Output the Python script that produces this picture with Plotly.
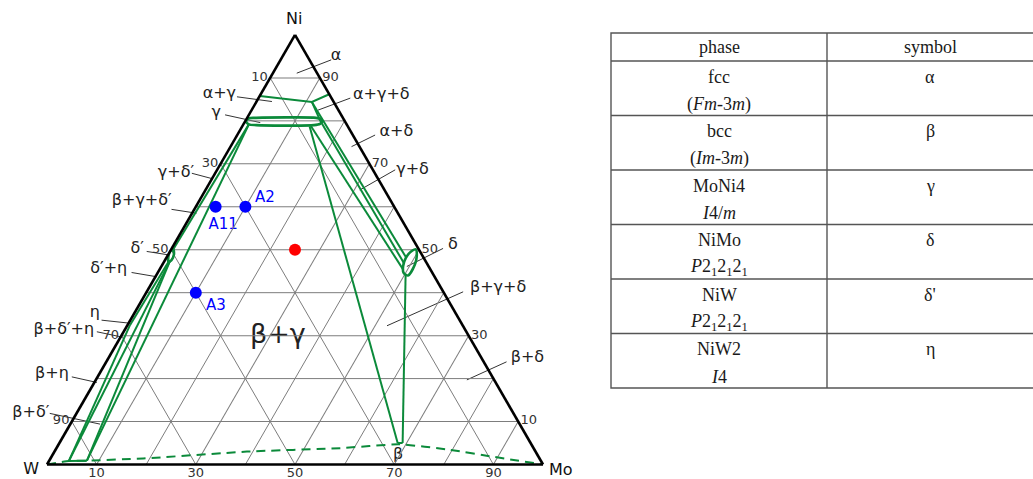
import math
import plotly.graph_objects as go

# ---------------- data (compositions in at.%: Ni, Mo; W is the balance) ----------------
MAJOR_TICKS = [10, 30, 50, 70, 90]
MINOR_GRID = [20, 40, 60, 80]
LEFT_TICKTEXT = ["90", "70", "50", "30", "10"]    # W % along W-Ni edge (a-axis ticks)
BOTTOM_TICKTEXT = ["10", "30", "50", "70", "90"]  # Mo % along W-Mo edge
RIGHT_TICKTEXT = ["90", "70", "50", "30", "10"]   # Ni % along Ni-Mo edge (c-axis ticks)

# alpha (fcc) phase boundary
ALPHA_NI = [85.8, 84.4, 86.2]
ALPHA_MO = [0.0, 11.2, 13.8]

# gamma (MoNi4) single-phase field
GAMMA_NI = [79.9, 80.6, 80.7, 80.8, 80.7, 80.4, 80.0, 79.3, 79.0, 78.9, 79.0, 79.2, 79.9]
GAMMA_MO = [0.2, 0.4, 1.8, 8.6, 13.9, 15.0, 15.5, 15.4, 14.3, 9.5, 2.7, 1.1, 0.2]

# delta (NiMo) single-phase field
DELTA_NI = [50.1, 48.5, 46.5, 44.0, 44.6, 46.2, 48.1, 49.6, 50.1]
DELTA_MO = [49.3, 50.3, 50.9, 50.8, 49.6, 48.7, 48.3, 48.6, 49.3]

# delta' (NiW) single-phase field
DELTAP_NI = [50.1, 49.0, 47.6, 47.2, 48.6, 49.7, 50.1]
DELTAP_MO = [0.4, 1.1, 1.3, 0.9, 0.2, 0.05, 0.4]

# beta (bcc) boundary (dashed)
BCC_NI = [0.0, 0.8, 0.9, 1.4, 3.0, 3.8, 4.7, 3.4, 1.8, 0.0]
BCC_MO = [0.0, 4.0, 7.6, 18.7, 38.8, 57.2, 68.7, 79.6, 89.1, 100.0]

# tie-triangle / two-phase boundary segments ((Ni, Mo) start, (Ni, Mo) end)
TIE_SEGMENTS = [
    ((84.4, 11.2), (80.0, 15.1)),
    ((84.4, 11.2), (48.3, 48.2)),
    ((80.0, 15.1), (46.9, 48.5)),
    ((78.8, 13.8), (45.3, 49.2)),
    ((78.7, 13.6), (5.0, 68.2)),
    ((44.4, 50.1), (5.0, 69.2)),
    ((5.0, 68.2), (5.0, 69.2)),
    ((79.3, 1.1), (49.6, 0.4)),
    ((79.3, 1.1), (0.9, 7.6)),
    ((47.4, 1.1), (0.9, 7.6)),
    ((47.4, 1.1), (0.8, 4.0)),
    ((47.2, 0.9), (32.5, 0.5)),
    ((32.5, 0.5), (0.8, 4.0)),
    ((0.8, 4.0), (0.9, 7.6)),
]

# phase-field labels and their leader lines
LABEL_TEXT = ["α", "α+γ", "γ", "α+γ+δ", "α+δ", "γ+δ", "γ+δ′", "β+γ+δ′", "δ′", "δ′+η",
              "η", "β+δ′+η", "β+η", "β+δ′", "δ", "β+γ+δ", "β+δ", "β"]
LABEL_NI = [95.1, 86.3, 81.8, 86.0, 77.5, 68.6, 67.8, 61.4, 50.2, 45.5,
            35.3, 31.2, 21.0, 12.1, 51.1, 41.1, 24.9, 2.2]
LABEL_MO = [10.7, -8.4, -6.8, 24.4, 31.7, 39.4, -7.9, -11.6, -6.9, -10.3,
            -8.0, -12.2, -9.5, -9.3, 56.3, 70.4, 84.4, 69.7]

LEADER_FROM_NI = [94.2, 85.6, 81.4, 85.3, 76.7, 68.6, 67.8, 59.4, 49.6, 44.7,
                  33.6, 30.9, 20.4, 11.9, 50.3, 40.2, 23.9]
LEADER_FROM_MO = [10.2, -4.5, -4.8, 18.5, 27.8, 35.9, -4.7, -4.6, -4.7, -5.3,
                  -5.8, -5.4, -5.2, -5.4, 54.7, 63.8, 80.7]
LEADER_TO_NI = [91.1, 84.5, 79.6, 82.5, 74.0, 63.9, 66.5, 58.5, 48.8, 43.7,
                32.9, 29.6, 19.1, 9.4, 46.1, 32.3, 19.7]
LEADER_TO_MO = [4.8, 3.1, 3.2, 13.4, 24.4, 31.1, 0.2, 0.9, 0.1, 0.3,
                0.2, 0.6, 0.5, 6.0, 49.5, 52.4, 74.8]

BIG_LABEL = "β+γ"
BIG_LABEL_NI = [29.9]
BIG_LABEL_MO = [31.6]

VERTEX_TEXT = ["Ni", "W", "Mo"]
VERTEX_NI = [103.5, -1.2, -1.4]
VERTEX_MO = [-1.9, -2.6, 104.3]

# samples
SAMPLE_NAMES = ["A11", "A2", "A3"]
SAMPLE_NI = [60, 60, 40]
SAMPLE_MO = [4, 10, 10]
SAMPLE_LABEL_NI = [55.8, 61.9, 36.9]
SAMPLE_LABEL_MO = [7.6, 13.0, 15.6]
RED_NI = [50]
RED_MO = [25]

# table
TABLE_HEADER = ["phase", "symbol"]
TABLE_PHASE = ["fcc", "bcc", "MoNi4", "NiMo", "NiW", "NiW2"]
TABLE_GROUP = ["(<i>Fm</i>-3<i>m</i>)", "(<i>Im</i>-3<i>m</i>)", "<i>I</i>4/<i>m</i>",
               "<i>P</i>2<sub>1</sub>2<sub>1</sub>2<sub>1</sub>",
               "<i>P</i>2<sub>1</sub>2<sub>1</sub>2<sub>1</sub>", "<i>I</i>4"]
TABLE_SYMBOL = ["α", "β", "γ", "δ", "δ'", "η"]

# ---------------- layout constants (pixels) ----------------
W_PX, H_PX = 1033, 479
TRI_LEFT, TRI_WIDTH, TRI_BOTTOM = 47.0, 496.0, 464.5
SCALE = TRI_WIDTH / 100.0                       # px per composition unit
TRI_H = TRI_WIDTH * math.sqrt(3) / 2
BOTTOM_LABEL_OFFSET_PX = 9.5
GREEN = "#0b8a3a"
GRID_COLOR = "#7d7d7d"
SQ3 = math.sqrt(3) / 2


def tern(ni, mo):
    ni = list(ni)
    mo = list(mo)
    w = [None if (n is None or m is None) else 100 - n - m for n, m in zip(ni, mo)]
    return dict(a=ni, b=w, c=mo)


def cart(ni, mo):
    """composition -> cartesian coordinates of the overlay axes (same ternary geometry)"""
    xs = [None if (n is None or m is None) else m + n / 2 for n, m in zip(ni, mo)]
    ys = [None if n is None else n * SQ3 for n in ni]
    return dict(x=xs, y=ys)


fig = go.Figure()

# intermediate grid lines (every 10 %, the labelled ones come from the axes)
gn, gm = [], []
for L in MINOR_GRID:
    gn += [L, L, None, 100 - L, 0, None, 100 - L, 0, None]
    gm += [0, 100 - L, None, 0, 0, None, L, L, None]
fig.add_trace(go.Scatterternary(**tern(gn, gm), mode="lines",
                                line=dict(color=GRID_COLOR, width=1), hoverinfo="skip", connectgaps=False))

# beta boundary (dashed)
fig.add_trace(go.Scatterternary(**tern(BCC_NI, BCC_MO), mode="lines",
                                line=dict(color=GREEN, width=2, dash="9px,6px", shape="spline", smoothing=0.5),
                                hoverinfo="skip"))

# tie lines
tn, tm = [], []
for (n1, m1), (n2, m2) in TIE_SEGMENTS:
    tn += [n1, n2, None]
    tm += [m1, m2, None]
fig.add_trace(go.Scatterternary(**tern(tn, tm), mode="lines",
                                line=dict(color=GREEN, width=2), hoverinfo="skip", connectgaps=False))

fig.add_trace(go.Scatterternary(**tern(ALPHA_NI, ALPHA_MO), mode="lines",
                                line=dict(color=GREEN, width=2), hoverinfo="skip"))
for ni, mo in [(GAMMA_NI, GAMMA_MO), (DELTA_NI, DELTA_MO), (DELTAP_NI, DELTAP_MO)]:
    fig.add_trace(go.Scatterternary(**tern(ni, mo), mode="lines",
                                    line=dict(color=GREEN, width=2.6, shape="spline", smoothing=0.8),
                                    hoverinfo="skip"))

# sample points
fig.add_trace(go.Scatterternary(**tern(SAMPLE_NI, SAMPLE_MO), mode="markers",
                                marker=dict(color="#0000ff", size=12, line=dict(width=0)), hoverinfo="skip"))
fig.add_trace(go.Scatterternary(**tern(RED_NI, RED_MO), mode="markers",
                                marker=dict(color="#ff0000", size=12, line=dict(width=0)), hoverinfo="skip"))

# ---- overlay cartesian axes (same geometry) for labels reaching outside the triangle ----
ln, lm = [], []
for i in range(len(LEADER_FROM_NI)):
    ln += [LEADER_FROM_NI[i], LEADER_TO_NI[i], None]
    lm += [LEADER_FROM_MO[i], LEADER_TO_MO[i], None]
fig.add_trace(go.Scatter(**cart(ln, lm), mode="lines", line=dict(color="#333333", width=1),
                         hoverinfo="skip", connectgaps=False))
fig.add_trace(go.Scatter(**cart(LABEL_NI, LABEL_MO), mode="text", text=LABEL_TEXT,
                         textposition="middle center",
                         textfont=dict(family="DejaVu Sans", size=16, color="#222222"),
                         hoverinfo="skip", cliponaxis=False))
fig.add_trace(go.Scatter(**cart(BIG_LABEL_NI, BIG_LABEL_MO), mode="text", text=[BIG_LABEL],
                         textposition="middle center",
                         textfont=dict(family="DejaVu Sans", size=27, color="#222222"),
                         hoverinfo="skip", cliponaxis=False))
fig.add_trace(go.Scatter(**cart(VERTEX_NI, VERTEX_MO), mode="text", text=VERTEX_TEXT,
                         textposition="middle center",
                         textfont=dict(family="DejaVu Sans", size=16, color="#111111"),
                         hoverinfo="skip", cliponaxis=False))
fig.add_trace(go.Scatter(**cart(SAMPLE_LABEL_NI, SAMPLE_LABEL_MO), mode="text", text=SAMPLE_NAMES,
                         textposition="middle center",
                         textfont=dict(family="DejaVu Sans", size=15, color="#0000ff"),
                         hoverinfo="skip", cliponaxis=False))
# Mo-axis tick labels along the W-Mo edge (Ni = 0), just below the edge
fig.add_trace(go.Scatter(x=MAJOR_TICKS, y=[-BOTTOM_LABEL_OFFSET_PX / SCALE] * len(MAJOR_TICKS),
                         mode="text", text=BOTTOM_TICKTEXT, textposition="middle center",
                         textfont=dict(family="DejaVu Sans", size=13, color="#333333"),
                         hoverinfo="skip", cliponaxis=False))

axis_common = dict(tickvals=MAJOR_TICKS, ticks="", showgrid=True, gridcolor=GRID_COLOR, gridwidth=1,
                   showline=True, linecolor="black", linewidth=2.6,
                   tickfont=dict(family="DejaVu Sans", size=13, color="#333333"),
                   title=dict(text=""))

# ternary domain: triangle of width TRI_WIDTH starting at TRI_LEFT, base at TRI_BOTTOM
xc = (TRI_LEFT + TRI_WIDTH / 2) / W_PX
yc = 1 - (TRI_BOTTOM - TRI_H / 2) / H_PX
dx = TRI_WIDTH / 2 / W_PX
dy = (TRI_H / 2 + 3) / H_PX

fig.update_layout(
    width=W_PX, height=H_PX, margin=dict(l=0, r=0, t=0, b=0),
    paper_bgcolor="white", plot_bgcolor="rgba(0,0,0,0)", showlegend=False, hovermode=False,
    ternary=dict(
        sum=100, bgcolor="rgba(0,0,0,0)",
        domain=dict(x=[xc - dx, xc + dx], y=[yc - dy, yc + dy]),
        aaxis=dict(ticktext=LEFT_TICKTEXT, **axis_common),
        baxis=dict(showticklabels=False, **axis_common),
        caxis=dict(ticktext=RIGHT_TICKTEXT, **axis_common),
    ),
    xaxis=dict(domain=[0, 1], range=[-TRI_LEFT / SCALE, (W_PX - TRI_LEFT) / SCALE], visible=False,
               fixedrange=True),
    yaxis=dict(domain=[0, 1], range=[-(H_PX - TRI_BOTTOM) / SCALE, TRI_BOTTOM / SCALE], visible=False,
               fixedrange=True),
)

# ---------------- table (layout geometry in pixels) ----------------
T_LEFT, T_MID, T_RIGHT = 611, 827, 1036
T_TOP, HEAD_H, ROW_H = 33, 28, 54.5
T_BOTTOM = T_TOP + HEAD_H + ROW_H * len(TABLE_PHASE)
LINE = dict(color="#555555", width=1.4)


def px(x):
    return x / W_PX


def py(y):
    return 1 - y / H_PX


shapes = [dict(type="rect", xref="paper", yref="paper", x0=px(T_LEFT), x1=px(T_RIGHT),
               y0=py(T_TOP), y1=py(T_BOTTOM), line=LINE)]
shapes.append(dict(type="line", xref="paper", yref="paper", x0=px(T_MID), x1=px(T_MID),
                   y0=py(T_TOP), y1=py(T_BOTTOM), line=LINE))
for i in range(len(TABLE_PHASE)):
    yl = T_TOP + HEAD_H + ROW_H * i
    shapes.append(dict(type="line", xref="paper", yref="paper", x0=px(T_LEFT), x1=px(T_RIGHT),
                       y0=py(yl), y1=py(yl), line=LINE))

cx1 = (T_LEFT + T_MID) / 2
cx2 = (T_MID + W_PX) / 2
font_t = dict(family="Liberation Serif", size=18, color="#1a1a1a")
ann = []
for j, h in enumerate(TABLE_HEADER):
    ann.append(dict(x=px([cx1, cx2][j]), y=py(T_TOP + HEAD_H / 2), text=h))
for i in range(len(TABLE_PHASE)):
    top = T_TOP + HEAD_H + ROW_H * i
    ann.append(dict(x=px(cx1), y=py(top + 15.5), text=TABLE_PHASE[i]))
    ann.append(dict(x=px(cx1), y=py(top + 43), text=TABLE_GROUP[i]))
    ann.append(dict(x=px(cx2), y=py(top + 15.5), text=TABLE_SYMBOL[i]))
for a in ann:
    a.update(xref="paper", yref="paper", showarrow=False, xanchor="center", yanchor="middle", font=font_t)

fig.update_layout(shapes=shapes, annotations=ann)

fig.write_html("out.html", config={"displayModeBar": False, "staticPlot": True},
               post_script="document.body.style.margin='0px';")
